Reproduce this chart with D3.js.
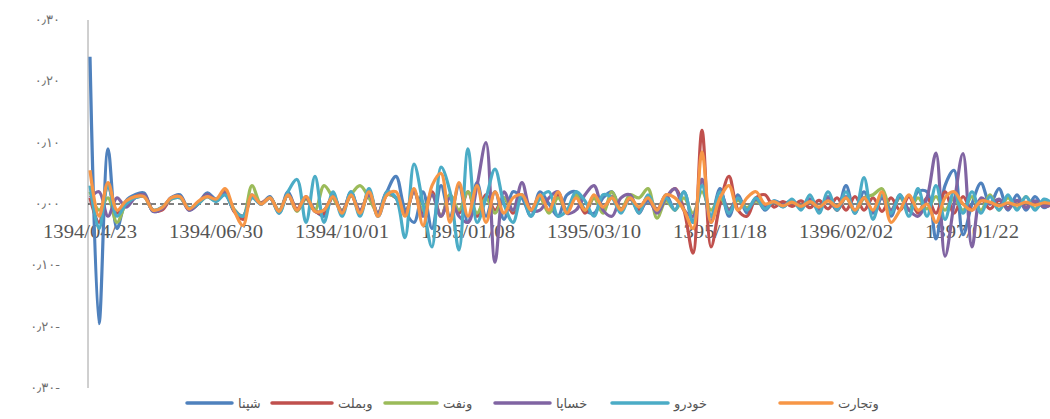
<!DOCTYPE html>
<html><head><meta charset="utf-8">
<script src="https://cdn.jsdelivr.net/npm/d3@7/dist/d3.min.js"></script>
<style>body{margin:0;background:#fff}svg{display:block}</style>
</head><body><svg id="c" width="1050" height="419"></svg>
<script>
const seriesNames = ["شپنا","وبملت","ونفت","خساپا","خودرو","وتجارت"];
const seriesColors = ["#4F81BD","#C0504D","#9BBB59","#8064A2","#4BACC6","#F79646"];
const tickIndex = [0,14,28,42,56,70,84,98];
const tickLabels = ["1394/04/23","1394/06/30","1394/10/01","1395/01/08","1395/03/10","1395/11/18","1396/02/02","1397/01/22"];
const yTicks = [0.3,0.2,0.1,0,-0.1,-0.2,-0.3];
const yTickLabels = ["۰٫۳۰","۰٫۲۰","۰٫۱۰","۰٫۰۰","۰٫۱۰-","۰٫۲۰-","۰٫۳۰-"];

const shepna = [
0.24,-0.195,0.09,-0.04,0.005,0.015,0.018,-0.012,-0.008,0.01,
0.015,-0.01,0.0,0.018,0.008,0.015,-0.01,-0.02,0.015,0.0,
0.012,-0.015,0.02,-0.01,0.01,-0.01,-0.02,0.015,-0.015,0.02,
-0.015,0.02,-0.02,0.02,0.045,-0.01,-0.03,0.02,-0.04,0.03,
-0.02,0.03,-0.03,0.035,-0.02,0.02,-0.025,0.02,0.01,-0.02,
0.02,0.0,-0.02,0.015,0.02,-0.01,-0.015,0.01,0.02,-0.01,
0.01,-0.01,0.005,-0.01,0.015,-0.01,0.02,-0.03,0.04,-0.02,
0.025,-0.02,0.015,-0.015,0.01,-0.01,0.005,0.0,0.005,-0.005,
0.008,-0.01,0.012,-0.01,0.03,-0.015,0.02,-0.015,0.01,-0.02,
0.015,-0.01,0.02,0.02,-0.057,0.03,0.055,-0.05,0.0,0.034,
0.0,0.025,-0.01,0.015,-0.01,0.012,-0.006,0.005];
const vbmellat = [
0.01,-0.03,0.03,-0.015,0.0,0.012,0.015,-0.01,-0.01,0.008,
0.012,-0.008,0.002,0.015,0.006,0.02,-0.012,-0.025,0.012,0.002,
0.01,-0.012,0.015,-0.008,0.012,-0.012,-0.015,0.012,-0.012,0.015,
-0.012,0.018,-0.015,0.015,0.01,-0.015,0.02,-0.015,0.02,-0.02,
0.015,-0.015,0.02,-0.02,0.015,-0.01,0.01,-0.015,0.015,-0.01,
0.01,-0.012,0.015,-0.01,0.012,-0.015,0.01,-0.01,0.012,-0.008,
0.008,-0.01,0.012,-0.008,0.01,0.025,-0.01,-0.08,0.12,-0.07,
0.0,0.045,-0.01,-0.02,0.01,0.015,-0.005,0.004,-0.004,0.005,
-0.006,0.006,-0.008,0.01,-0.01,0.012,-0.01,0.01,-0.012,0.01,
-0.01,0.012,-0.015,0.01,-0.015,0.02,-0.015,0.012,-0.01,0.008,
-0.008,0.006,-0.006,0.005,-0.005,0.004,-0.004,0.0];
const vnaft = [
0.02,-0.01,0.01,-0.03,0.0,0.01,0.012,-0.01,-0.006,0.008,
0.01,-0.008,0.0,0.012,0.005,0.018,-0.008,-0.02,0.03,0.0,
0.01,-0.01,0.015,-0.012,0.008,-0.01,0.03,0.01,-0.01,0.015,
0.03,0.01,-0.015,0.015,0.01,-0.015,0.02,-0.01,0.015,-0.02,
0.015,-0.01,0.02,-0.015,0.01,-0.015,0.01,-0.01,0.015,-0.01,
0.01,-0.015,0.01,-0.01,0.015,-0.01,0.01,-0.015,0.02,-0.01,
0.015,0.01,0.025,-0.023,0.005,-0.01,0.01,-0.015,0.02,-0.01,
0.01,-0.008,0.006,-0.006,0.005,-0.005,0.004,-0.004,0.005,-0.006,
0.008,-0.008,0.01,-0.01,0.01,-0.012,0.01,0.015,0.025,-0.01,
0.01,-0.01,0.01,-0.008,0.012,-0.01,0.01,-0.01,0.012,-0.01,
0.015,-0.01,0.01,-0.008,0.012,-0.008,0.006,0.0];
const khasapa = [
0.01,0.02,-0.02,0.01,-0.005,0.01,0.015,-0.012,-0.008,0.01,
0.012,-0.01,0.0,0.015,0.006,0.018,-0.01,-0.02,0.012,0.0,
0.01,-0.012,0.015,-0.01,0.01,-0.012,-0.01,0.012,-0.012,0.015,
-0.01,0.015,-0.015,0.02,0.01,-0.015,0.02,-0.02,0.015,-0.02,
0.01,-0.02,-0.03,0.03,0.10,-0.095,0.02,-0.01,0.035,-0.01,
-0.01,0.01,0.02,-0.015,-0.01,0.015,0.03,-0.01,-0.02,0.01,
0.015,-0.015,0.01,-0.015,0.01,0.025,-0.01,-0.02,0.04,-0.03,
0.02,-0.01,0.01,-0.01,0.008,-0.005,0.004,-0.004,0.005,-0.006,
0.008,-0.008,0.01,-0.01,0.012,-0.01,0.01,-0.012,0.01,-0.01,
0.012,-0.01,-0.02,0.01,0.083,-0.085,0.0,0.082,-0.07,0.01,
0.0,0.008,-0.008,0.006,-0.006,0.005,-0.004,0.0];
const khodro = [
0.03,-0.04,0.03,-0.02,0.0,0.01,0.012,-0.01,-0.005,0.008,
0.01,-0.006,0.0,0.012,0.004,0.015,-0.01,-0.02,0.01,0.0,
0.01,-0.015,0.02,0.04,-0.03,0.045,-0.03,0.02,-0.02,0.02,
-0.02,0.025,-0.02,0.02,0.01,-0.055,0.065,0.0,-0.07,0.06,
0.02,-0.075,0.09,-0.03,0.01,0.057,0.0,-0.03,0.015,-0.02,
0.01,0.02,-0.02,-0.01,0.02,0.005,-0.02,0.015,0.01,-0.015,
0.01,-0.015,0.015,-0.01,0.01,-0.01,0.02,-0.03,0.03,-0.02,
0.02,-0.015,0.01,-0.01,0.01,-0.008,0.005,-0.005,0.008,-0.01,
0.015,-0.015,0.02,-0.01,0.02,-0.015,0.043,-0.025,0.015,-0.015,
0.015,-0.02,0.025,-0.02,0.03,-0.025,0.02,-0.015,0.02,-0.015,
0.012,-0.01,0.015,-0.01,0.012,-0.01,0.008,0.0];
const vtejarat = [
0.055,-0.02,0.035,-0.01,0.005,0.012,0.012,-0.01,-0.006,0.01,
0.012,-0.008,0.004,0.012,0.008,0.025,-0.01,-0.035,0.015,0.0,
0.01,-0.012,0.015,-0.01,0.012,-0.012,-0.01,0.012,-0.015,0.015,
-0.015,0.02,-0.02,0.015,0.02,-0.02,0.025,-0.035,0.03,0.05,
-0.03,0.035,-0.02,0.03,-0.03,0.02,-0.015,0.01,0.015,-0.01,
0.015,-0.01,0.02,-0.015,0.01,-0.01,0.015,-0.005,0.01,-0.01,
0.01,-0.005,0.01,-0.01,0.015,0.01,-0.01,-0.04,0.085,-0.03,
0.01,0.03,-0.01,0.01,0.02,0.0,0.004,-0.003,0.003,-0.004,
0.004,-0.005,0.005,-0.004,0.01,-0.01,0.01,-0.01,0.02,-0.03,
-0.01,0.015,-0.01,0.0,-0.03,0.01,0.02,0.0,-0.01,0.005,
0.003,-0.003,0.002,-0.002,0.003,-0.002,0.002,0.0];
const seriesValues = [shepna, vbmellat, vnaft, khasapa, khodro, vtejarat];

const svg = d3.select("#c");
const x = d3.scaleLinear().domain([0, 14]).range([90, 216]);
const y = d3.scaleLinear().domain([-0.3, 0.3]).range([388, 20]);

svg.append("defs").append("clipPath").attr("id","clip")
  .append("rect").attr("x",88).attr("y",0).attr("width",962).attr("height",419);

// y axis line
svg.append("line").attr("x1",88).attr("x2",88).attr("y1",y(0.3)).attr("y2",y(-0.3))
  .attr("stroke","#a0a0a0").attr("stroke-width",1);
// y labels
svg.append("g").selectAll("text").data(yTicks).join("text")
  .attr("x",60).attr("y",d=>y(d)+4).attr("text-anchor","end")
  .attr("font-family","DejaVu Sans").attr("font-size",13).attr("letter-spacing",3).attr("fill","#707070")
  .text((d,i)=>yTickLabels[i]);

// zero (category) axis, dashed
svg.append("line").attr("x1",88).attr("x2",1050).attr("y1",y(0)).attr("y2",y(0))
  .attr("stroke","#000").attr("stroke-width",1).attr("stroke-dasharray","5,4");

// x labels
svg.append("g").selectAll("text").data(tickIndex).join("text")
  .attr("x",d=>x(d)).attr("y",y(0)+34).attr("text-anchor","middle")
  .attr("font-family","Liberation Serif").attr("font-size",18).attr("fill","#555")
  .attr("textLength",94).attr("lengthAdjust","spacingAndGlyphs")
  .text((d,i)=>tickLabels[i]);

// lines
const line = d3.line().x((d,i)=>x(i)).y(d=>y(d)).curve(d3.curveCatmullRom.alpha(0.5));
svg.append("g").attr("clip-path","url(#clip)").selectAll("path").data(seriesValues).join("path")
  .attr("d",line).attr("fill","none")
  .attr("stroke",(d,i)=>seriesColors[i]).attr("stroke-width",3.2)
  .attr("stroke-linejoin","round");

// legend
const legX = [187, 272, 385, 495, 612, 780];
const legLen = [45, 60, 52, 55, 56, 52];
const lg = svg.append("g");
seriesNames.forEach((n,i)=>{
  lg.append("line").attr("x1",legX[i]).attr("x2",legX[i]+legLen[i]).attr("y1",403).attr("y2",403)
    .attr("stroke",seriesColors[i]).attr("stroke-width",3.5).attr("stroke-linecap","round");
  lg.append("text").attr("x",legX[i]+legLen[i]+6).attr("y",408)
    .attr("font-family","DejaVu Sans").attr("font-size",13).attr("fill","#555").text(n);
});
</script></body></html>
